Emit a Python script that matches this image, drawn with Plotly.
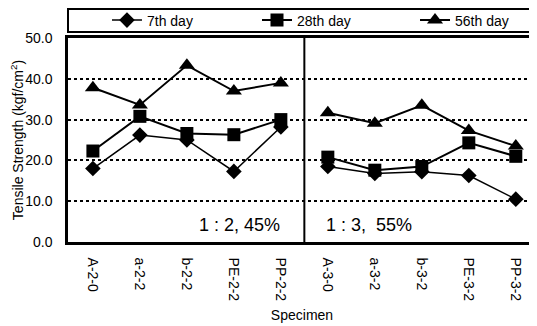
import plotly.graph_objects as go

specimens = ["A-2-0", "a-2-2", "b-2-2", "PE-2-2", "PP-2-2",
             "A-3-0", "a-3-2", "b-3-2", "PE-3-2", "PP-3-2"]
day7 = [18.0, 26.2, 25.0, 17.3, 28.2, 18.5, 16.8, 17.2, 16.3, 10.5]
day28 = [22.3, 30.8, 26.6, 26.3, 30.0, 20.8, 17.6, 18.5, 24.3, 21.0]
day56 = [37.8, 33.6, 43.3, 37.0, 39.0, 31.7, 29.1, 33.5, 27.3, 23.5]
series_names = ["7th day", "28th day", "56th day"]
y_ticks = [0, 10, 20, 30, 40, 50]
panel_labels = ["1 : 2, 45%", "1 : 3,  55%"]

font = "Liberation Sans, Arial, sans-serif"
styles = [
    dict(symbol="diamond", size=12, width=1.5, legend="legend", lx=0.1871),
    dict(symbol="square", size=13, width=2, legend="legend2", lx=0.4707),
    dict(symbol="triangle-up", size=14, width=2, legend="legend3", lx=0.7694),
]

fig = go.Figure()
for name, vals, st in zip(series_names, [day7, day28, day56], styles):
    for part, (a, b) in enumerate([(0, 5), (5, 10)]):
        fig.add_trace(go.Scatter(
            x=specimens[a:b], y=vals[a:b], mode="lines+markers",
            name=name, legendgroup=name, showlegend=(part == 0),
            legend=st["legend"],
            line=dict(color="black", width=st["width"]),
            marker=dict(symbol=st["symbol"], size=st["size"], color="black"),
        ))

fig.add_shape(type="line", xref="x", yref="paper", x0=4.5, x1=4.5, y0=0, y1=1,
              line=dict(color="black", width=2))
# legend frame
fig.add_shape(type="rect", xref="paper", yref="paper", x0=0, x1=1.01,
              y0=1.029, y1=1.142, line=dict(color="black", width=2))

fig.add_annotation(x=3.12, y=4.2, xref="x", yref="y", text=panel_labels[0],
                   showarrow=False, xanchor="center", yanchor="middle",
                   font=dict(size=18, color="black", family=font))
fig.add_annotation(x=5.88, y=4.2, xref="x", yref="y", text=panel_labels[1],
                   showarrow=False, xanchor="center", yanchor="middle",
                   font=dict(size=18, color="black", family=font))

legend_common = dict(orientation="h", xanchor="left", xref="container",
                     yref="container", y=0.9607, yanchor="middle",
                     bgcolor="rgba(0,0,0,0)", borderwidth=0,
                     font=dict(size=14, family=font, color="black"))

fig.update_layout(
    width=529, height=318,
    margin=dict(l=60, r=1, t=30, b=84, autoexpand=False),
    paper_bgcolor="white", plot_bgcolor="white",
    font=dict(family=font, color="black", size=14),
    showlegend=True,
    legend=dict(x=styles[0]["lx"], **legend_common),
    legend2=dict(x=styles[1]["lx"], **legend_common),
    legend3=dict(x=styles[2]["lx"], **legend_common),
    xaxis=dict(type="category", categoryorder="array", categoryarray=specimens,
               range=[-0.53, 9.43], tickangle=90, showgrid=False,
               showline=True, mirror=True, linecolor="black", linewidth=2.5,
               ticks="", tickfont=dict(size=14), automargin=False,
               ticklabelstandoff=10,
               title=dict(text="Specimen", font=dict(size=14), standoff=10)),
    yaxis=dict(range=[0, 50], tickvals=y_ticks, tickformat=".1f",
               showgrid=True, gridcolor="black", griddash="dot", gridwidth=1.5,
               showline=True, mirror=True, linecolor="black", linewidth=2.5,
               ticks="", tickfont=dict(size=14), zeroline=False, automargin=False,
               ticklabelstandoff=10,
               title=dict(text="Tensile Strength (kgf/cm<sup>2</sup>)",
                          font=dict(size=14), standoff=5)),
)

fig.write_html("out.html")
